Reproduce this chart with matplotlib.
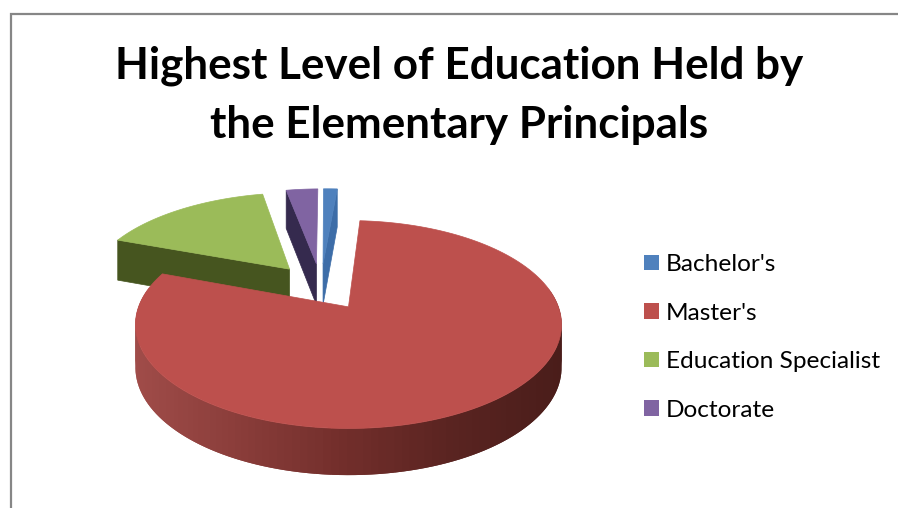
import numpy as np
import matplotlib
matplotlib.use("Agg")
import matplotlib.pyplot as plt
from matplotlib.colors import LinearSegmentedColormap
from matplotlib.patches import Patch, Polygon

title = "Highest Level of Education Held by\nthe Elementary Principals"
categories = ["Bachelor's", "Master's", "Education Specialist", "Doctorate"]
shares = [1.3, 79.6, 16.1, 3.0]

top_colors = ["#4f81bd", "#bd504d", "#9bbb59", "#8064a2"]
cut_colors = ["#3d6da8", "#6e2c2a", "#46551f", "#352a4e"]

START_ANGLE = 359.0  # degrees clockwise from 12 o'clock
EXPLODE = 0.25

# pie disc projected with a simple perspective
ORIGIN_X, ORIGIN_Y = 348.0, 307.0
RADIUS_X, RADIUS_Y = 210.0, 101.0
PERSPECTIVE = 0.17
CENTER_U, CENTER_V = -0.134, 0.211
DEPTH = 42.5


def direction(angle):
    rad = np.radians(angle)
    return np.sin(rad), np.cos(rad)


def scale_at(v):
    return 1.0 / (1.0 + PERSPECTIVE * v)


def project(u, v):
    s = scale_at(v)
    return ORIGIN_X + RADIUS_X * u * s, ORIGIN_Y - RADIUS_Y * v * s


def wedge_outline(start, end, n=160):
    """World coordinates of a wedge's apex and outer arc."""
    mid_u, mid_v = direction((start + end) / 2)
    apex_u = CENTER_U + EXPLODE * mid_u
    apex_v = CENTER_V + EXPLODE * mid_v
    arc_u, arc_v = direction(np.linspace(start, end, n))
    return apex_u, apex_v, apex_u + arc_u, apex_v + arc_v


def extruded_quad(u, v):
    """Vertical face below the polyline running through the world points u, v."""
    u, v = np.asarray(u, float), np.asarray(v, float)
    x, y = project(u, v)
    drop = DEPTH * np.sqrt(scale_at(v))
    upper = np.column_stack([x, y])
    lower = np.column_stack([x, y + drop])
    return np.vstack([upper, lower[::-1]])


fig = plt.figure(figsize=(8.98, 5.08), dpi=100)
ax = fig.add_axes([0, 0, 1, 1])
ax.set_xlim(0, 898)
ax.set_ylim(508, 0)
ax.axis("off")

# chart border, only the top and left edges fall inside the canvas
ax.plot([10.5, 10.5, 898], [508, 14, 14], color="#868686", lw=1.6,
        solid_joinstyle="miter", zorder=1)

# slice boundaries
bounds = START_ANGLE + np.concatenate([[0], np.cumsum(shares)]) * 3.6
wedges = [wedge_outline(bounds[i], bounds[i + 1]) for i in range(len(shares))]

rim_cmap = LinearSegmentedColormap.from_list(
    "rim", ["#a04c49", "#8a3d3a", "#722e2b", "#5a2421", "#4a1d1a"])

# drawn back to front: the cut faces first, then the top faces, Master's last
for i in [2, 3, 0]:
    apex_u, apex_v, arc_u, arc_v = wedges[i]
    # Bachelor's shows its trailing cut, the other two their leading cut
    j = -1 if i == 0 else 0
    quad = extruded_quad([apex_u, arc_u[j]], [apex_v, arc_v[j]])
    ax.add_patch(Polygon(quad, closed=True, fc=cut_colors[i], ec=cut_colors[i],
                         lw=0.5, zorder=2))

for i in [2, 3, 0]:
    apex_u, apex_v, arc_u, arc_v = wedges[i]
    xs, ys = project(np.r_[apex_u, arc_u], np.r_[apex_v, arc_v])
    ax.add_patch(Polygon(np.column_stack([xs, ys]), closed=True,
                         fc=top_colors[i], ec=top_colors[i], lw=0.5, zorder=3))

# Master's outer wall, shaded in overlapping strips so no seams show
apex_u, apex_v, arc_u, arc_v = wedges[1]
arc_x, _ = project(arc_u, arc_v)
facing = np.where(arc_v < 0.2)[0]
for pos, a in enumerate(facing[:-2]):
    # each strip reaches under the next one
    b = facing[pos + 2]
    if b != a + 2:
        continue
    quad = extruded_quad(arc_u[a:b + 1], arc_v[a:b + 1])
    shade = rim_cmap((arc_x[a] - arc_x.min()) / (arc_x.max() - arc_x.min()))
    ax.add_patch(Polygon(quad, closed=True, fc=shade, ec="none", zorder=4))

xs, ys = project(np.r_[apex_u, arc_u], np.r_[apex_v, arc_v])
ax.add_patch(Polygon(np.column_stack([xs, ys]), closed=True,
                     fc=top_colors[1], ec=top_colors[1], lw=0.5, zorder=5))

ax.text(459.5, 95, title, ha="center", va="center", family="Lato", weight="bold",
        fontsize=31.7, linespacing=1.58, color="black", zorder=6)

handles = [Patch(fc=c, ec="none") for c in top_colors]
ax.legend(handles, categories, loc="upper left", bbox_to_anchor=(644, 254),
          bbox_transform=ax.transData, frameon=False, prop={"family": "Lato", "size": 17.6},
          handlelength=0.61, handleheight=0.61, handletextpad=0.3,
          labelspacing=1.13, borderpad=0, borderaxespad=0)

fig.savefig("out.png", dpi=100)
